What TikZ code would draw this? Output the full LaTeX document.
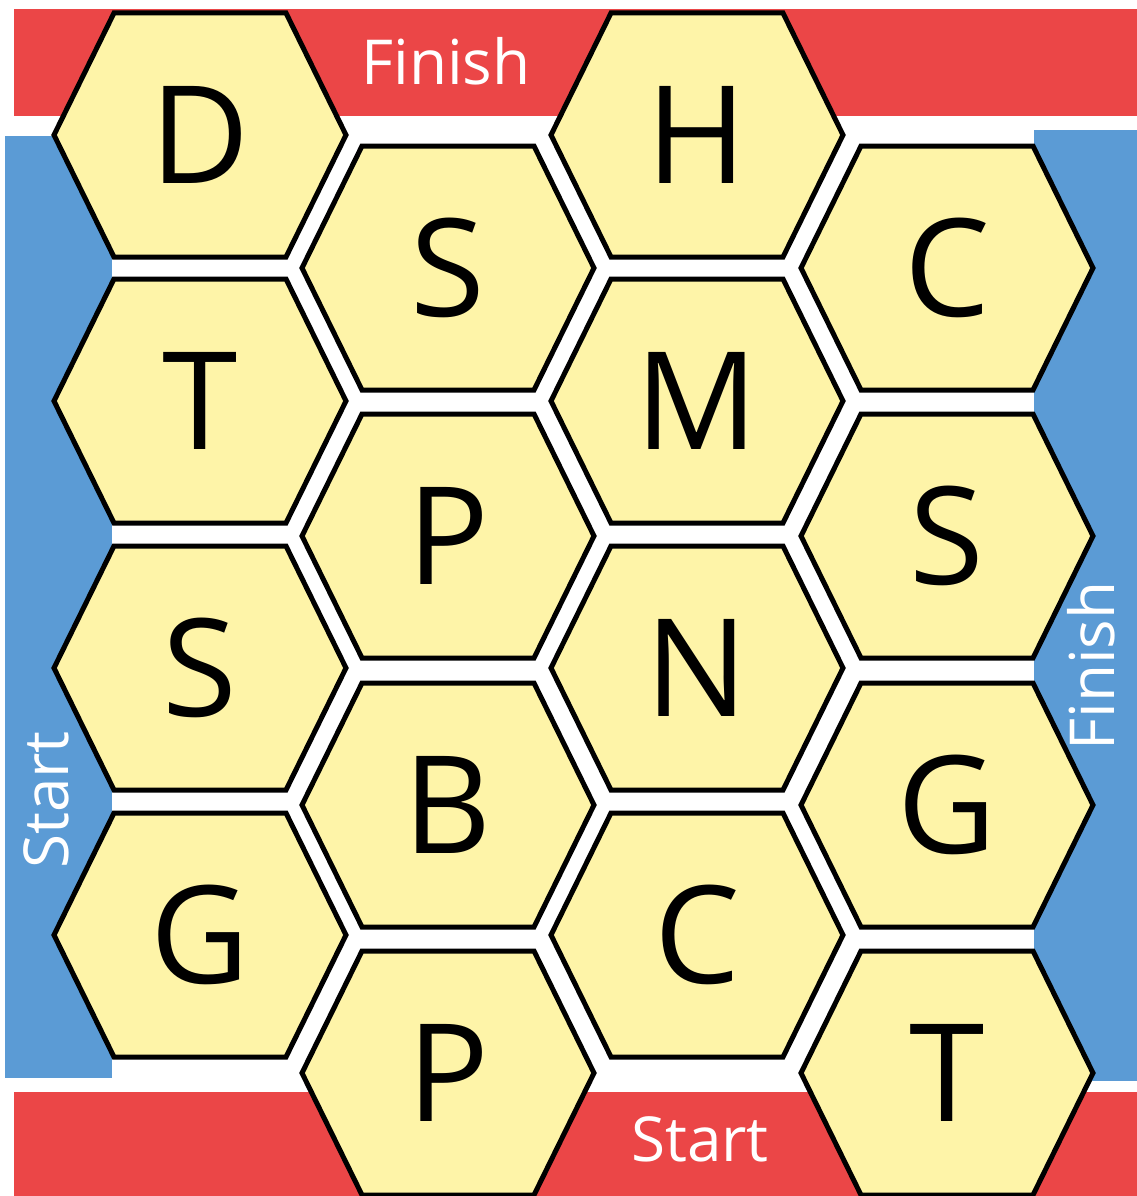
\documentclass[tikz,border=0pt]{standalone}
\usepackage{fontspec}
\setmainfont{Open Sans}
\definecolor{barred}{HTML}{EB4647}
\definecolor{barblue}{HTML}{5B9BD5}
\definecolor{hexfill}{HTML}{FEF4A8}
\tikzset{
  hexcell/.style={draw=black, fill=hexfill, line width=5pt, line join=miter},
  letter/.style={inner sep=0pt, font=\fontsize{136}{136}\selectfont},
  barlabel/.style={inner sep=0pt, text=white, font=\fontsize{62}{62}\selectfont},
}
\newcommand\hexcellat[4]{%
  \draw[hexcell] ({#2-146},{#3}) -- ({#2-86},{#3-122}) -- ({#2+86},{#3-122}) -- ({#2+146},{#3}) -- ({#2+86},{#3+122}) -- ({#2-86},{#3+122}) -- cycle;
  \node[letter] (#1) at (#2,#3) {#4};
}
\begin{document}
\begin{tikzpicture}[x=1pt,y=-1pt]
\useasboundingbox (0,0) rectangle (1137,1196);
\fill[white] (0,0) rectangle (1137,1196);
% bars
\fill[barred] (14,9) rectangle (1137,116);
\fill[barred] (14,1092) rectangle (1137,1196);
\fill[barblue] (5,136) rectangle (112,1078);
\fill[barblue] (1034,130) rectangle (1137,1081);
% column 1
\hexcellat{d1}{200}{135}{D}
\hexcellat{t1}{200}{401}{T}
\hexcellat{s1}{200}{668}{S}
\hexcellat{g1}{200}{935}{G}
% column 2
\hexcellat{s2}{448}{268}{S}
\hexcellat{p2}{448}{536}{P}
\hexcellat{b2}{448}{805}{B}
\hexcellat{pp2}{448}{1073}{P}
% column 3
\hexcellat{h3}{697}{135}{H}
\hexcellat{m3}{697}{401}{M}
\hexcellat{n3}{697}{668}{N}
\hexcellat{c3}{697}{935}{C}
% column 4
\hexcellat{c4}{947}{268}{C}
\hexcellat{s4}{947}{536}{S}
\hexcellat{g4}{947}{805}{G}
\hexcellat{t4}{947}{1073}{T}
% bar labels
\node[barlabel] (finishtop) at (446,61) {Finish};
\node[barlabel] (startbottom) at (700,1139) {Start};
\node[barlabel, rotate=90] (startleft) at (46,800) {Start};
\node[barlabel, rotate=90] (finishright) at (1091,666) {Finish};
\end{tikzpicture}
\end{document}
